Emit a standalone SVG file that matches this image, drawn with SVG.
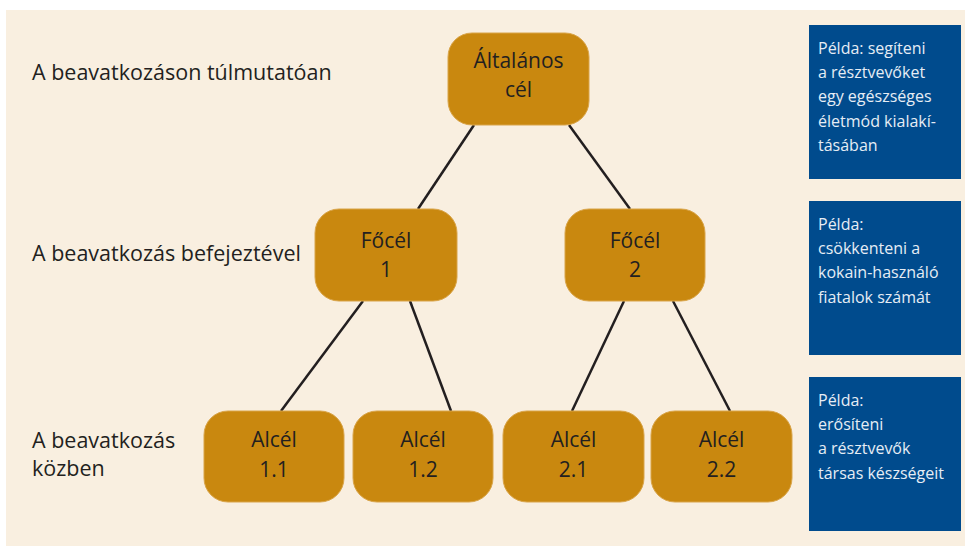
<svg xmlns="http://www.w3.org/2000/svg" width="965" height="546" viewBox="0 0 965 546">
<style>
.bg{fill:#f9efe0}
.node rect{fill:#c9880f;stroke:#d9a448;stroke-width:1}
.node text{font-family:"Open Sans","Noto Sans",sans-serif;font-size:21px;fill:#231f20;text-anchor:middle}
.lbl{font-family:"Open Sans","Noto Sans",sans-serif;font-size:21.5px;fill:#231f20}
.ex rect{fill:#004b8d}
.ex text{font-family:"Open Sans","Noto Sans",sans-serif;font-size:16px;fill:#e6edf5}
#connectors line{stroke:#231f20;stroke-width:2.5}
</style>
<rect x="0" y="0" width="965" height="546" fill="#ffffff"/>
<rect class="bg" x="6" y="10" width="959" height="536"/>

<g id="levels">
<text class="lbl" x="32" y="80">A beavatkozáson túlmutatóan</text>
<text class="lbl" x="32" y="261">A beavatkozás befejeztével</text>
<text class="lbl" x="32" y="448">A beavatkozás</text>
<text class="lbl" x="32" y="476">közben</text>
</g>

<g id="connectors">
<line x1="474" y1="125" x2="418" y2="209"/>
<line x1="569" y1="125" x2="630" y2="209"/>
<line x1="363" y1="301" x2="281" y2="411"/>
<line x1="410" y1="301" x2="451" y2="411"/>
<line x1="624" y1="301" x2="572" y2="411"/>
<line x1="673" y1="301" x2="730" y2="411"/>
</g>

<g id="node-altalanos" class="node">
<rect x="448" y="33" width="141" height="92" rx="24"/>
<text x="518.5" y="68">Általános</text>
<text x="518.5" y="97">cél</text>
</g>
<g id="node-focel1" class="node">
<rect x="315" y="209" width="142" height="92" rx="24"/>
<text x="386" y="248">Főcél</text>
<text x="386" y="277">1</text>
</g>
<g id="node-focel2" class="node">
<rect x="565" y="209" width="140" height="92" rx="24"/>
<text x="635" y="248">Főcél</text>
<text x="635" y="277">2</text>
</g>
<g id="node-alcel11" class="node">
<rect x="204" y="411" width="140" height="91" rx="24"/>
<text x="274" y="447">Alcél</text>
<text x="274" y="477">1.1</text>
</g>
<g id="node-alcel12" class="node">
<rect x="353" y="411" width="140" height="91" rx="24"/>
<text x="423" y="447">Alcél</text>
<text x="423" y="477">1.2</text>
</g>
<g id="node-alcel21" class="node">
<rect x="503" y="411" width="141" height="91" rx="24"/>
<text x="573.5" y="447">Alcél</text>
<text x="573.5" y="477">2.1</text>
</g>
<g id="node-alcel22" class="node">
<rect x="651" y="411" width="141" height="91" rx="24"/>
<text x="721.5" y="447">Alcél</text>
<text x="721.5" y="477">2.2</text>
</g>

<g id="example-1" class="ex">
<rect x="809" y="25" width="152" height="154"/>
<text x="818" y="54">Példa: segíteni</text>
<text x="818" y="78">a résztvevőket</text>
<text x="818" y="102">egy egészséges</text>
<text x="818" y="127">életmód kialakí-</text>
<text x="818" y="151">tásában</text>
</g>
<g id="example-2" class="ex">
<rect x="809" y="201" width="152" height="154"/>
<text x="818" y="230">Példa:</text>
<text x="818" y="254">csökkenteni a</text>
<text x="818" y="278">kokain-használó</text>
<text x="818" y="303">fiatalok számát</text>
</g>
<g id="example-3" class="ex">
<rect x="809" y="377" width="152" height="154"/>
<text x="818" y="406">Példa:</text>
<text x="818" y="430">erősíteni</text>
<text x="818" y="454">a résztvevők</text>
<text x="818" y="479">társas készségeit</text>
</g>
</svg>
